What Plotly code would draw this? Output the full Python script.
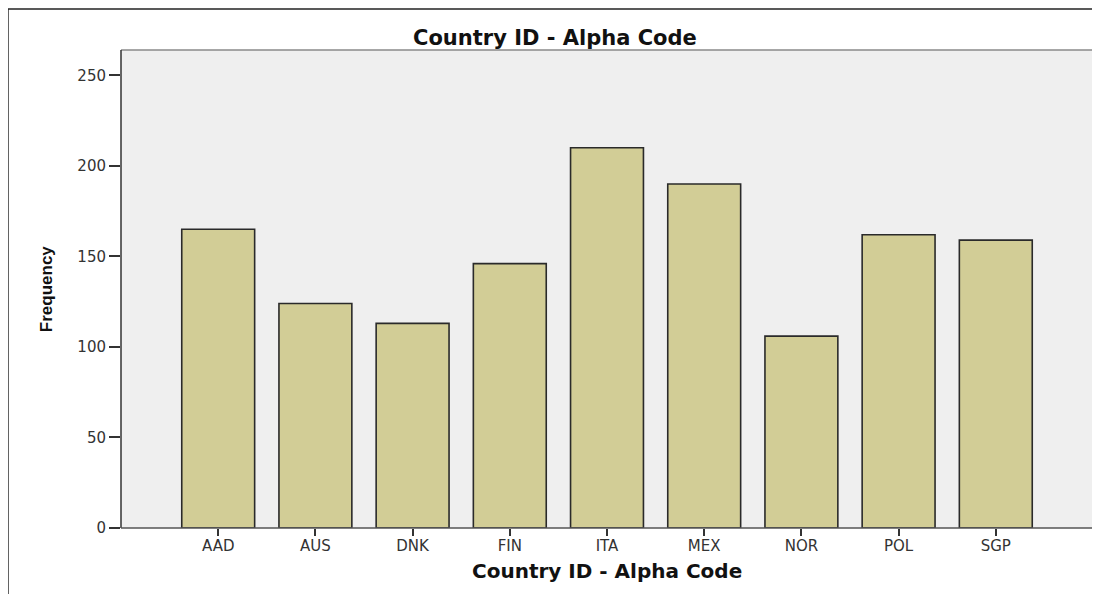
import plotly.graph_objects as go

# Country codes and frequency counts
countries = ["AAD", "AUS", "DNK", "FIN", "ITA", "MEX", "NOR", "POL", "SGP"]
frequency = [165, 124, 113, 146, 210, 190, 106, 162, 159]
y_ticks = [0, 50, 100, 150, 200, 250]

TITLE = "Country ID - Alpha Code"
BAR_FILL = "#D2CD96"
PLOT_BG = "#EFEFEF"

fig = go.Figure(
    go.Bar(
        x=list(range(len(countries))),
        y=frequency,
        width=0.75,
        marker=dict(color=BAR_FILL, line=dict(color="#2A2A2A", width=1.6)),
        hoverinfo="skip",
    )
)

fig.update_xaxes(
    range=[-1, 9],
    tickmode="array",
    tickvals=list(range(len(countries))),
    ticktext=countries,
    ticks="outside",
    ticklen=7,
    tickwidth=1.5,
    tickcolor="#333333",
    ticklabelstandoff=-3,
    showgrid=False,
    zeroline=False,
    showline=False,
    tickfont=dict(family="DejaVu Sans", size=15, color="#333333"),
)
fig.update_yaxes(
    range=[0, 264],
    tickmode="array",
    tickvals=y_ticks,
    ticks="outside",
    ticklen=11,
    tickwidth=1.5,
    tickcolor="#333333",
    showgrid=False,
    zeroline=False,
    showline=False,
    tickfont=dict(family="DejaVu Sans", size=15, color="#333333"),
)

shapes = [
    # plot frame: light top/right, dark left/bottom
    dict(type="line", xref="paper", yref="paper", x0=0, x1=1, y0=1, y1=1,
         line=dict(color="#8A8A8A", width=1.5)),
    dict(type="line", xref="paper", yref="paper", x0=1, x1=1, y0=0, y1=1,
         line=dict(color="#6E6E6E", width=2)),
    dict(type="line", xref="paper", yref="paper", x0=0, x1=0, y0=0, y1=1,
         line=dict(color="#333333", width=1.5)),
    dict(type="line", xref="paper", yref="paper", x0=0, x1=1, y0=0, y1=0,
         line=dict(color="#555555", width=1.5)),
    # outer chart border (top and left)
    dict(type="line", xref="paper", yref="paper", x0=-0.1163, x1=1.01, y0=1.0858, y1=1.0858,
         line=dict(color="#222222", width=1.5)),
    dict(type="line", xref="paper", yref="paper", x0=-0.1163, x1=-0.1163, y0=-0.14, y1=1.0858,
         line=dict(color="#222222", width=1.5)),
]

annotations = [
    dict(text="<b>" + TITLE + "</b>", xref="paper", yref="paper", x=0.4466, y=1.025,
         xanchor="center", yanchor="middle", showarrow=False,
         font=dict(family="DejaVu Sans", size=21, color="#111111")),
    dict(text="<b>" + TITLE + "</b>", xref="paper", yref="paper", x=0.5, y=-0.09,
         xanchor="center", yanchor="middle", showarrow=False,
         font=dict(family="DejaVu Sans", size=20, color="#111111")),
    dict(text="<b>Frequency</b>", xref="paper", yref="paper", x=-0.077, y=0.5,
         xanchor="center", yanchor="middle", showarrow=False, textangle=-90,
         font=dict(family="Liberation Sans", size=17, color="#111111")),
]

# the page body adds an 8px offset, so the figure is sized to fit the window
fig.update_layout(
    width=1092,
    height=586,
    margin=dict(l=113, r=7, t=42, b=66),
    paper_bgcolor="white",
    plot_bgcolor=PLOT_BG,
    showlegend=False,
    shapes=shapes,
    annotations=annotations,
)

fig.write_html("out.html")
